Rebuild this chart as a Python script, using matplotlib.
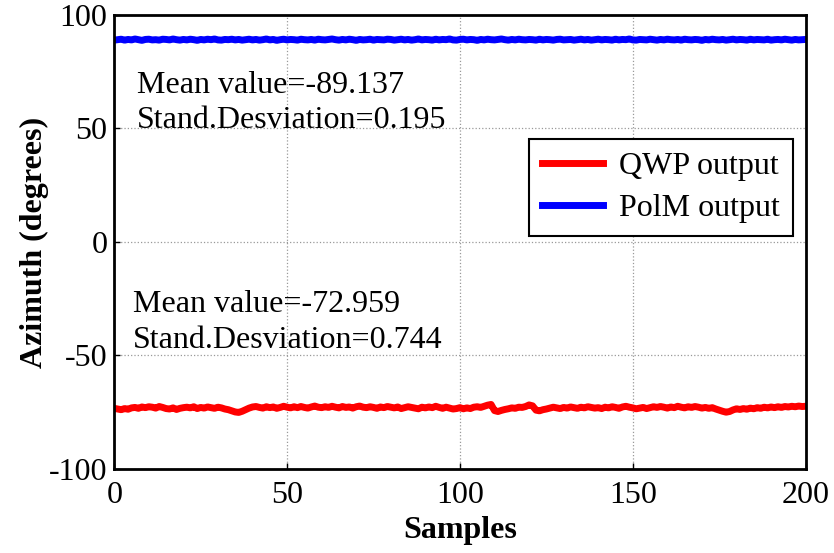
import matplotlib
matplotlib.use('Agg')
import matplotlib.pyplot as plt
import numpy as np

plt.rcParams['font.family'] = ['Liberation Serif', 'DejaVu Serif']
plt.rcParams['axes.unicode_minus'] = False

# samples 1..200
samples = list(range(1, 201))

# QWP output (red), degrees
qwp = [
    -73.6, -73.9, -73.4, -73.7, -73.1, -72.9, -73.3, -72.7, -73.0, -72.6, -72.8, -73.2, -72.5, -72.9, -73.4, -73.6, -73.1, -73.8, -73.3, -73.0,
    -72.8, -73.1, -72.6, -73.4, -72.9, -73.2, -72.7, -73.0, -73.3, -72.8, -73.1, -73.6, -73.9, -74.4, -74.9, -75.1, -74.6, -73.9, -73.2, -72.7,
    -72.5, -72.9, -73.2, -72.6, -73.0, -72.7, -73.3, -72.9, -72.4, -72.8, -73.1, -72.6, -73.0, -72.5, -72.9, -73.2, -72.7, -72.3, -72.8, -73.0,
    -72.6, -72.9, -72.4, -72.8, -73.1, -72.5, -72.9, -72.7, -73.2, -72.6, -72.3, -72.8, -73.0, -72.6, -72.9, -73.3, -72.7, -73.0, -72.5, -72.8,
    -73.1, -72.7, -73.4, -73.0, -72.6, -72.9, -73.2, -73.5, -72.8, -73.1, -72.7, -73.0, -72.4, -72.9, -73.3, -72.8, -73.2, -73.6, -73.4, -73.0,
    -73.5, -73.1, -73.4, -72.8, -72.6, -72.9, -72.4, -71.9, -71.6, -74.3, -74.7, -74.2, -73.8, -73.5, -73.1, -73.3, -72.8, -72.9, -72.5, -71.8,
    -72.2, -74.1, -74.4, -73.9, -73.6, -73.2, -72.8, -73.1, -73.4, -72.9, -73.2, -72.7, -73.0, -73.3, -72.8, -73.1, -72.6, -72.9, -73.2, -73.0,
    -73.4, -72.8, -73.1, -72.6, -72.9, -73.3, -72.7, -72.4, -72.8, -73.1, -73.5, -73.2, -72.9, -73.4, -73.0, -72.6, -72.9, -72.5, -72.8, -73.2,
    -72.7, -73.0, -72.4, -72.8, -73.1, -72.6, -72.9, -72.5, -72.8, -73.2, -72.9, -73.3, -73.0, -73.6, -74.1, -74.6, -75.0, -74.7, -74.0, -73.5,
    -73.8, -73.4, -73.7, -73.2, -73.5, -73.0, -73.3, -72.8, -73.1, -72.7, -73.0, -72.6, -72.9, -72.5, -72.7, -72.4, -72.6, -72.3, -72.5, -72.4,
]

# PolM output (blue), degrees
polm = [
    89.1, 89.3, 88.9, 89.2, 89.0, 89.4, 89.1, 88.8, 89.2, 89.3, 89.0, 89.1, 88.9, 89.3, 89.2, 89.0, 89.4, 89.1, 88.9, 89.2,
    89.0, 89.3, 89.1, 88.8, 89.2, 89.0, 89.3, 89.1, 89.4, 89.0, 88.9, 89.2, 89.1, 89.3, 89.0, 89.2, 88.9, 89.1, 89.3, 89.0,
    89.2, 88.9, 89.1, 89.4, 89.0, 89.2, 88.8, 89.1, 89.3, 89.0, 89.2, 89.1, 88.9, 89.3, 89.1, 89.0, 89.2, 88.9, 89.3, 89.1,
    89.0, 89.2, 89.4, 89.1, 88.9, 89.2, 89.0, 89.3, 89.1, 88.8, 89.2, 89.0, 89.1, 89.3, 88.9, 89.2, 89.1, 89.0, 89.3, 89.2,
    88.9, 89.1, 89.3, 89.0, 89.2, 88.9, 89.1, 89.4, 89.0, 89.2, 89.1, 88.9, 89.3, 89.0, 89.2, 89.1, 89.4, 89.0, 88.9, 89.2,
    89.3, 89.0, 89.2, 89.1, 88.8, 89.2, 89.0, 89.3, 89.1, 89.0, 89.2, 89.4, 89.1, 88.9, 89.2, 89.0, 89.3, 89.1, 89.0, 89.2,
    89.1, 88.9, 89.3, 89.0, 89.2, 89.1, 88.9, 89.2, 89.3, 89.0, 89.1, 89.2, 88.9, 89.1, 89.3, 89.0, 89.2, 88.9, 89.1, 89.3,
    89.0, 89.2, 89.1, 88.9, 89.3, 89.0, 89.2, 89.1, 89.4, 89.0, 88.9, 89.2, 89.1, 89.0, 89.3, 89.1, 88.9, 89.2, 89.0, 89.3,
    89.1, 89.0, 89.2, 88.9, 89.3, 89.1, 89.0, 89.2, 89.1, 88.8, 89.2, 89.0, 89.3, 89.1, 89.0, 89.2, 88.9, 89.1, 89.3, 89.0,
    89.2, 89.1, 88.9, 89.3, 89.0, 89.2, 89.1, 89.0, 89.3, 88.9, 89.1, 89.2, 89.0, 89.3, 89.1, 88.9, 89.2, 89.0, 89.1, 89.2,
]

xticks = [0, 50, 100, 150, 200]
yticks = [-100, -50, 0, 50, 100]

fig = plt.figure(figsize=(8.34, 5.53), dpi=100)
ax = fig.add_axes([0.137, 0.152, 0.829, 0.821])

ax.plot(samples, qwp, color='#ff0000', linewidth=5, label='QWP output')
ax.plot(samples, polm, color='#0000ff', linewidth=5, label='PolM output')

ax.set_xlim(0, 200)
ax.set_ylim(-100, 100)
ax.set_xticks(xticks)
ax.set_yticks(yticks)
ax.tick_params(direction='in', length=4, width=1, labelsize=23)
ax.tick_params(axis='x', pad=9)
ax.tick_params(axis='y', pad=5)
ax.grid(True, linestyle=':', color='#999999', linewidth=0.9)

for s in ax.spines.values():
    s.set_linewidth(2)
    s.set_color('black')

ax.set_xlabel('Samples', fontsize=23, fontweight='bold', labelpad=4)
ax.set_ylabel('Azimuth (degrees)', fontsize=23, fontweight='bold', labelpad=0)

ax.text(6.5, 69, 'Mean value=-89.137', fontsize=23, va='center')
ax.text(6.5, 53.5, 'Stand.Desviation=0.195', fontsize=23, va='center')
ax.text(5.5, -27.5, 'Mean value=-72.959', fontsize=23, va='center')
ax.text(5.5, -43.5, 'Stand.Desviation=0.744', fontsize=23, va='center')

leg = ax.legend(loc='upper right', bbox_to_anchor=(0.981, 0.727), borderaxespad=0,
                fontsize=23, fancybox=False, framealpha=1, edgecolor='black',
                handlelength=1.9, borderpad=0.4, labelspacing=0.4, handletextpad=0.5)
leg.get_frame().set_linewidth(1.5)
for line in leg.get_lines():
    line.set_linewidth(5)

fig.savefig('out.png', dpi=100)
